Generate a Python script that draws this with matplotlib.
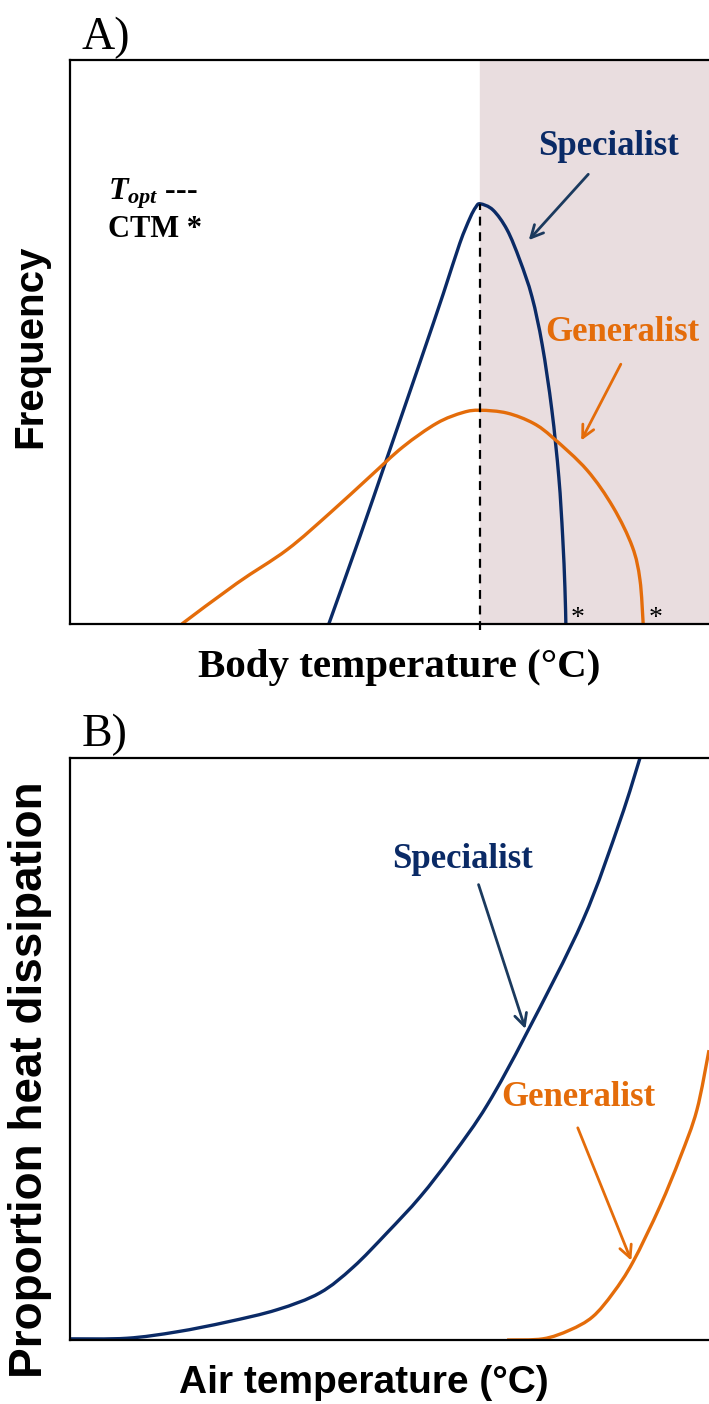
import matplotlib.pyplot as plt
from matplotlib.patches import FancyArrowPatch, PathPatch
from matplotlib.path import Path

plt.rcParams['mathtext.fontset'] = 'custom'
plt.rcParams['mathtext.rm'] = 'Liberation Serif:bold'
plt.rcParams['mathtext.it'] = 'Liberation Serif:italic:bold'
plt.rcParams['mathtext.bf'] = 'Liberation Serif:bold'

NAVY = '#0a2a66'
ARROW_NAVY = '#1b3a5e'
ORANGE = '#e46c0a'
SHADE = '#e9dddf'
SERIF = ['Liberation Serif', 'DejaVu Serif']
SANS = ['Liberation Sans', 'DejaVu Sans']

# panel A: body temperature distributions (arbitrary units, 0-100)
spec_a_x = [40.5, 45.4, 49.6, 54.8, 58.4, 61.0, 62.6, 63.5, 64.2, 66.2, 68.4,
            70.4, 72.3, 73.9, 75.4, 76.5, 77.1, 77.45, 77.6]
spec_a_y = [0, 15.6, 29.4, 46.5, 58.5, 67.5, 72.0, 73.9, 74.5, 73.4, 69.9,
            64.5, 58.0, 49.5, 38.0, 26.0, 15.5, 6.5, 0]
gen_a_x = [17.5, 26.1, 34.0, 40.7, 46.9, 52.1, 57.4, 61.5, 64.2, 68.4, 72.5,
           75.6, 80.9, 85.0, 88.0, 89.2, 89.7]
gen_a_y = [0, 7.2, 13.2, 19.7, 26.1, 31.4, 35.6, 37.5, 37.9, 37.4, 35.6,
           33.0, 27.3, 20.7, 13.7, 7.8, 0]
t_opt = 64.2
t_opt_peak = 74.5
ctm = [77.6, 89.7]

# panel B: proportion heat dissipation vs air temperature
spec_b_x = [0, 8.9, 16.7, 24.6, 32.4, 39.1, 44.3, 49.6, 54.8, 59.9, 65.3,
            71.5, 80.3, 86.1, 89.2]
spec_b_y = [0.2, 0.3, 1.4, 3.1, 5.2, 8.1, 12.5, 18.4, 24.6, 31.8, 40.4,
            52.8, 72.2, 89.3, 100]
gen_b_x = [68.4, 74.0, 78.2, 81.8, 85.0, 88.1, 92.3, 95.5, 98.1, 100]
gen_b_y = [0, 0.2, 1.7, 4.0, 8.1, 13.4, 22.9, 31.4, 39.5, 49.8]


def smooth_curve(ax, xs, ys, color):
    # smooth bezier line through the read points
    pts = list(zip(xs, ys))
    verts = [pts[0]]
    codes = [Path.MOVETO]
    n = len(pts)
    for i in range(n - 1):
        p0 = pts[max(i - 1, 0)]
        p1 = pts[i]
        p2 = pts[i + 1]
        p3 = pts[min(i + 2, n - 1)]
        c1 = (p1[0] + (p2[0] - p0[0]) / 6, p1[1] + (p2[1] - p0[1]) / 6)
        c2 = (p2[0] - (p3[0] - p1[0]) / 6, p2[1] - (p3[1] - p1[1]) / 6)
        verts += [c1, c2, p2]
        codes += [Path.CURVE4] * 3
    ax.add_patch(PathPatch(Path(verts, codes), fill=False, edgecolor=color,
                           lw=2.4, joinstyle='round', capstyle='butt'))


fig = plt.figure(figsize=(7.09, 14.04), dpi=100)
axA = fig.add_axes([70/709, 1-624/1404, 1-70/709, 564/1404])
axB = fig.add_axes([70/709, 1-1340/1404, 1-70/709, 582/1404])

for ax in (axA, axB):
    ax.set_xlim(0, 100)
    ax.set_ylim(0, 100)
    ax.set_xticks([])
    ax.set_yticks([])
    ax.spines['right'].set_visible(False)
    for s in ('left', 'top', 'bottom'):
        ax.spines[s].set_linewidth(1.6)

# --- panel A
axA.axvspan(t_opt, 100, color=SHADE, zorder=0)
axA.plot([t_opt, t_opt], [-1, t_opt_peak], '--', color='black', lw=1.6,
         dashes=(4, 3), clip_on=False)
smooth_curve(axA, spec_a_x, spec_a_y, NAVY)
smooth_curve(axA, gen_a_x, gen_a_y, ORANGE)
for c in ctm:
    axA.text(c + 0.8, 1.0, '*', fontsize=20, ha='left', va='center',
             family=SERIF)

axA.text(84.2, 84.6, 'Specialist', color=NAVY, fontsize=25, weight='bold',
         family=SERIF, ha='center', va='center')
axA.add_patch(FancyArrowPatch((81.4, 80.1), (71.5, 67.7), arrowstyle='->',
                              mutation_scale=22, color=ARROW_NAVY, lw=2))
axA.text(86.4, 51.6, 'Generalist', color=ORANGE, fontsize=25, weight='bold',
         family=SERIF, ha='center', va='center')
axA.add_patch(FancyArrowPatch((86.4, 46.5), (79.8, 32.1), arrowstyle='->',
                              mutation_scale=22, color=ORANGE, lw=2))

axA.text(5.9, 76.3, r'$T_{opt}$ ---', fontsize=23, weight='bold',
         family=SERIF, ha='left', va='center')
axA.text(5.9, 70.0, 'CTM *', fontsize=22, weight='bold', family=SERIF,
         ha='left', va='center')

# --- panel B
smooth_curve(axB, spec_b_x, spec_b_y, NAVY)
smooth_curve(axB, gen_b_x, gen_b_y, ORANGE)
axB.text(61.5, 82.5, 'Specialist', color=NAVY, fontsize=25, weight='bold',
         family=SERIF, ha='center', va='center')
axB.add_patch(FancyArrowPatch((63.8, 78.7), (71.4, 53.0), arrowstyle='->',
                              mutation_scale=22, color=ARROW_NAVY, lw=2))
axB.text(79.5, 41.6, 'Generalist', color=ORANGE, fontsize=25, weight='bold',
         family=SERIF, ha='center', va='center')
axB.add_patch(FancyArrowPatch((79.3, 36.9), (88.0, 13.2), arrowstyle='->',
                              mutation_scale=22, color=ORANGE, lw=2))

# labels
fig.text(82/709, 1-38/1404, 'A)', fontsize=33, family=SERIF, va='center')
fig.text(82/709, 1-735/1404, 'B)', fontsize=33, family=SERIF, va='center')
fig.text(30/709, 1-346/1404, 'Frequency', fontsize=29, weight='bold',
         family=SANS, rotation=90, ha='center', va='center')
fig.text(30/709, 1-1080/1404, 'Proportion heat dissipation', fontsize=33,
         weight='bold', family=SANS, rotation=90, ha='center', va='center')
fig.text(399/709, 1-668/1404, 'Body temperature (°C)', fontsize=29.5,
         weight='bold', family=SERIF, ha='center', va='center')
fig.text(364/709, 1-1383/1404, 'Air temperature (°C)', fontsize=28,
         weight='bold', family=SANS, ha='center', va='center')

fig.savefig('out.png', dpi=100)
plt.close()
